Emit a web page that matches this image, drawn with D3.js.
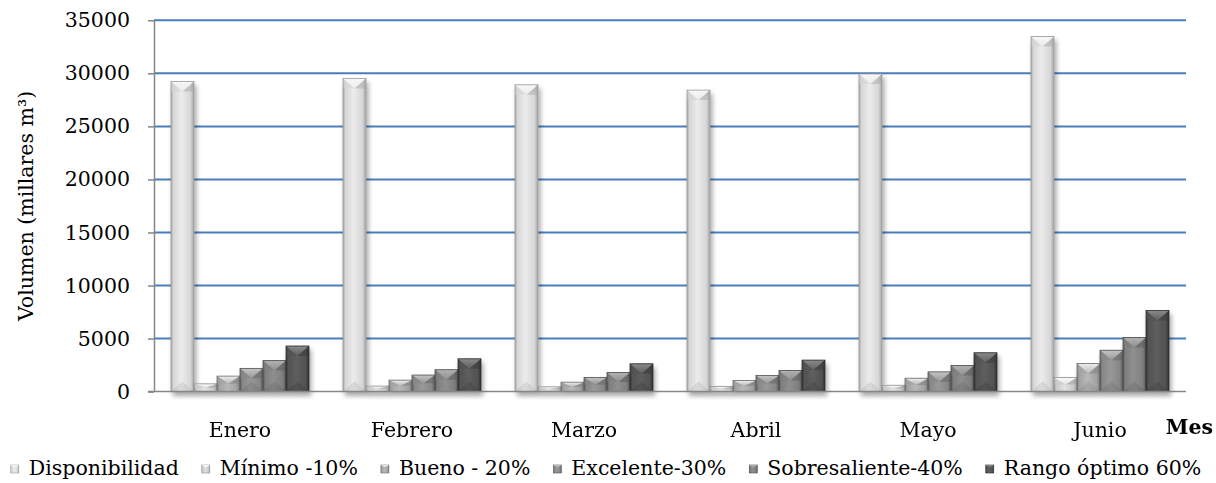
<!DOCTYPE html>
<html>
<head>
<meta charset="utf-8">
<script src="https://cdn.jsdelivr.net/npm/d3@7"></script>
<style>
  html, body { margin: 0; padding: 0; background: #ffffff; }
  svg { display: block; }
  text { font-family: "DejaVu Serif", "Liberation Serif", serif; fill: #000; }
</style>
</head>
<body>
<svg id="chart" width="1216" height="483"></svg>
<script>
// Monthly volumes (thousands of m³)
const months = ["Enero", "Febrero", "Marzo", "Abril", "Mayo", "Junio"];
const seriesNames = ["Disponibilidad", "Mínimo -10%", "Bueno - 20%", "Excelente-30%", "Sobresaliente-40%", "Rango óptimo 60%"];
const disponibilidad = [29240, 29520, 28920, 28420, 29940, 33480];
const minimo         = [730, 520, 450, 495, 600, 1340];
const bueno          = [1460, 1080, 890, 1050, 1260, 2650];
const excelente      = [2190, 1560, 1340, 1520, 1860, 3900];
const sobresaliente  = [2920, 2060, 1800, 2000, 2460, 5100];
const rangoOptimo    = [4300, 3090, 2620, 2970, 3660, 7640];
const yTicks = [0, 5000, 10000, 15000, 20000, 25000, 30000, 35000];

const seriesValues = [disponibilidad, minimo, bueno, excelente, sobresaliente, rangoOptimo];

// Grey shades for each series: edge, body, highlight, top face
const shades = [
  { dark: "#a4a4a4", mid: "#d6d6d6", light: "#ececec", top: "#f7f7f7", stroke: "#9c9c9c" },
  { dark: "#9c9c9c", mid: "#c9c9c9", light: "#e2e2e2", top: "#fbfbfb", stroke: "#8e8e8e" },
  { dark: "#7a7a7a", mid: "#a2a2a2", light: "#b8b8b8", top: "#eeeeee", stroke: "#6e6e6e" },
  { dark: "#5f5f5f", mid: "#878787", light: "#989898", top: "#c4c4c4", stroke: "#555555" },
  { dark: "#575757", mid: "#7f7f7f", light: "#8f8f8f", top: "#b2b2b2", stroke: "#4e4e4e" },
  { dark: "#333333", mid: "#525252", light: "#5e5e5e", top: "#8a8a8a", stroke: "#2e2e2e" }
];

const FONT = 20.5;
const svg = d3.select("#chart");
const plot = { left: 154, right: 1186, top: 20.3, bottom: 391.6 };

const x0 = d3.scaleBand().domain(months).range([plot.left, plot.right]).paddingInner(0).paddingOuter(0);
const x1 = d3.scaleBand().domain(d3.range(seriesNames.length)).range([17, x0.bandwidth() - 17]).padding(0);
const y = d3.scaleLinear().domain([0, 35000]).range([plot.bottom, plot.top]);

// Gradients and shadow filter
const defs = svg.append("defs");
shades.forEach((s, i) => {
  const g = defs.append("linearGradient").attr("id", "body" + i).attr("x1", "0").attr("x2", "1").attr("y1", "0").attr("y2", "0");
  [[0, s.dark], [0.1, s.mid], [0.45, s.light], [0.85, s.mid], [1, s.dark]].forEach(([o, c]) =>
    g.append("stop").attr("offset", o).attr("stop-color", c));
  const t = defs.append("linearGradient").attr("id", "top" + i).attr("x1", "0").attr("x2", "0").attr("y1", "0").attr("y2", "1");
  [[0, s.top], [1, s.light]].forEach(([o, c]) => t.append("stop").attr("offset", o).attr("stop-color", c));
});
const shadow = defs.append("filter").attr("id", "shadow").attr("x", "-20%").attr("y", "-5%").attr("width", "140%").attr("height", "120%");
shadow.append("feGaussianBlur").attr("in", "SourceAlpha").attr("stdDeviation", 2.5).attr("result", "b");
shadow.append("feOffset").attr("in", "b").attr("dx", 2).attr("dy", 4).attr("result", "o");
shadow.append("feComponentTransfer").attr("in", "o").attr("result", "s")
  .append("feFuncA").attr("type", "linear").attr("slope", 0.35);
const merge = shadow.append("feMerge");
merge.append("feMergeNode").attr("in", "s");
merge.append("feMergeNode").attr("in", "SourceGraphic");

// Horizontal gridlines
svg.append("g").selectAll("line").data(yTicks.filter(d => d > 0)).join("line")
  .attr("x1", plot.left).attr("x2", plot.right)
  .attr("y1", d => y(d)).attr("y2", d => y(d))
  .attr("stroke", "#4a7ebb").attr("stroke-width", 2);

// Y axis
const yAxis = svg.append("g").attr("transform", `translate(${plot.left},0)`)
  .call(d3.axisLeft(y).tickValues(yTicks).tickFormat(d3.format("d")).tickSize(6).tickSizeOuter(0).tickPadding(18));
yAxis.select(".domain").attr("stroke", "#868686").attr("stroke-width", 1.5);
yAxis.selectAll(".tick line").attr("stroke", "#868686").attr("stroke-width", 1.5);
yAxis.selectAll(".tick text").attr("font-family", "DejaVu Serif").attr("font-size", FONT).attr("fill", "#000");

// Bars with bevelled faces
function drawBar(g, x, w, v, i) {
  const yt = y(v), yb = y(0), h = yb - yt;
  const d = Math.min(10, h / 2, w / 2);
  const xc = x + w / 2;
  const s = shades[i];
  g.append("rect").attr("x", x).attr("y", yt).attr("width", w).attr("height", h)
    .attr("fill", `url(#body${i})`);
  // top face: bright V with darker side wedges
  g.append("path").attr("d", `M${x},${yt}L${x + w},${yt}L${xc},${yt + d}Z`).attr("fill", `url(#top${i})`);
  g.append("path").attr("d", `M${x},${yt}L${xc},${yt + d}L${x},${yt + d}Z`).attr("fill", s.mid).attr("opacity", 0.6);
  g.append("path").attr("d", `M${x + w},${yt}L${xc},${yt + d}L${x + w},${yt + d}Z`).attr("fill", s.dark).attr("opacity", 0.45);
  // bottom face
  if (h > 2 * d + 2) {
    g.append("path").attr("d", `M${x},${yb}L${x + w},${yb}L${xc},${yb - d}Z`).attr("fill", s.dark).attr("opacity", 0.25);
  }
  g.append("rect").attr("x", x).attr("y", yt).attr("width", w).attr("height", h)
    .attr("fill", "none").attr("stroke", s.stroke).attr("stroke-width", 0.8);
}

const bars = svg.append("g").attr("filter", "url(#shadow)");
months.forEach((m, mi) => {
  seriesValues.forEach((vals, si) => {
    drawBar(bars, x0(m) + x1(si), x1.bandwidth(), vals[mi], si);
  });
});

// X axis line
svg.append("line").attr("x1", plot.left - 6).attr("x2", plot.right)
  .attr("y1", plot.bottom).attr("y2", plot.bottom)
  .attr("stroke", "#868686").attr("stroke-width", 1.5);

// Category labels
svg.append("g").selectAll("text").data(months).join("text")
  .attr("x", d => x0(d) + x0.bandwidth() / 2).attr("y", 437)
  .attr("text-anchor", "middle").attr("font-size", FONT).text(d => d);

// Axis titles
svg.append("text").attr("x", 1213).attr("y", 434).attr("text-anchor", "end")
  .attr("font-size", FONT).attr("font-weight", "bold").text("Mes");
svg.append("text").attr("transform", `translate(33,${(plot.top + plot.bottom) / 2}) rotate(-90)`)
  .attr("text-anchor", "middle").attr("font-size", FONT).text("Volumen (millares m³)");

// Legend
const legend = svg.append("g");
const items = legend.selectAll("g").data(seriesNames).join("g");
items.append("rect").attr("width", 8).attr("height", 8).attr("y", -10)
  .attr("fill", (d, i) => `url(#body${i})`).attr("stroke", (d, i) => shades[i].stroke).attr("stroke-width", 0.6);
items.append("path").attr("d", "M0,-10L8,-10L4,-7Z").attr("fill", (d, i) => `url(#top${i})`);
items.append("text").attr("x", 18).attr("y", 0).attr("font-size", FONT).text(d => d);
let cursor = 0;
const gap = 23;
items.each(function () {
  const w = this.getBBox().width;
  d3.select(this).attr("transform", `translate(${cursor},475)`);
  cursor += w + gap;
});
const total = cursor - gap;
legend.attr("transform", `translate(${(1216 - total) / 2 - 2},0)`);
</script>
</body>
</html>
